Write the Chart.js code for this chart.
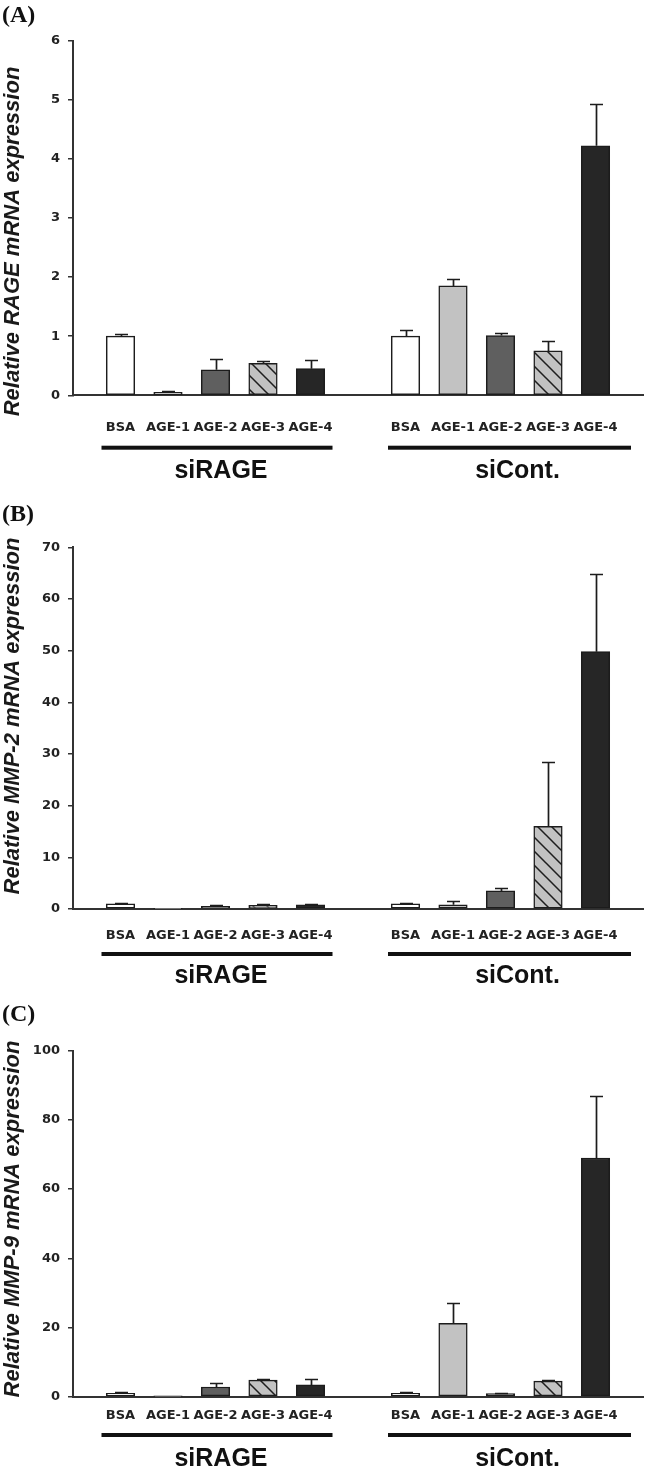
<!DOCTYPE html>
<html><head><meta charset="utf-8">
<script src="https://cdn.jsdelivr.net/npm/chart.js@4.4.0/dist/chart.umd.min.js"></script>
<style>
html,body{margin:0;padding:0;background:#fff;}
body{width:646px;height:1469px;position:relative;overflow:hidden;}
.panel{position:absolute;left:0;width:646px;}
.plabel{position:absolute;left:2px;font-family:"Liberation Serif","Times New Roman",serif;font-weight:bold;font-size:24px;line-height:24px;color:#111;}
canvas{position:absolute;left:0;top:0;}
</style></head><body>
<div class="panel" style="top:0;height:485px"><canvas id="cA" width="646" height="485"></canvas><div class="plabel" style="top:2px">(A)</div></div>
<div class="panel" style="top:485px;height:510px"><canvas id="cB" width="646" height="510"></canvas><div class="plabel" style="top:16px">(B)</div></div>
<div class="panel" style="top:980px;height:489px"><canvas id="cC" width="646" height="489"></canvas><div class="plabel" style="top:21px">(C)</div></div>
<script>
// ---- data ----
const treatments = ['BSA', 'AGE-1', 'AGE-2', 'AGE-3', 'AGE-4'];
const groupNames = ['siRAGE', 'siCont.'];

const rageTitle = 'Relative RAGE mRNA expression';
const rageSiRAGE = [1.0, 0.05, 0.43, 0.54, 0.45];
const rageSiRAGEErr = [0.04, 0.02, 0.18, 0.045, 0.15];
const rageSiCont = [1.0, 1.85, 1.01, 0.75, 4.22];
const rageSiContErr = [0.1, 0.11, 0.04, 0.17, 0.7];
const rageTicks = [0, 6, 1];

const mmp2Title = 'Relative MMP-2 mRNA expression';
const mmp2SiRAGE = [1.0, 0.05, 0.5, 0.7, 0.8];
const mmp2SiRAGEErr = [0.25, 0, 0.2, 0.2, 0.2];
const mmp2SiCont = [1.0, 0.8, 3.5, 16.0, 49.8];
const mmp2SiContErr = [0.1, 0.8, 0.5, 12.5, 15.0];
const mmp2Ticks = [0, 70, 10];

const mmp9Title = 'Relative MMP-9 mRNA expression';
const mmp9SiRAGE = [1.0, 0.05, 2.8, 4.8, 3.4];
const mmp9SiRAGEErr = [0.4, 0, 1.3, 0.4, 1.8];
const mmp9SiCont = [1.0, 21.2, 0.9, 4.5, 69.0];
const mmp9SiContErr = [0.4, 5.8, 0.3, 0.4, 18.0];
const mmp9Ticks = [0, 100, 20];

// ---- styles ----
function makeHatch() {
  const s = 14;
  const c = document.createElement('canvas');
  c.width = s; c.height = s;
  const g = c.getContext('2d');
  g.fillStyle = '#c2c2c2'; g.fillRect(0, 0, s, s);
  g.strokeStyle = '#1e1e1e'; g.lineWidth = 1.5;
  g.beginPath();
  g.moveTo(-2, -2); g.lineTo(s + 2, s + 2);
  g.moveTo(-2, s - 2); g.lineTo(2, s + 2);
  g.moveTo(s - 2, -2); g.lineTo(s + 2, 2);
  g.stroke();
  return g.createPattern(c, 'repeat');
}
const hatch = makeHatch();
const fillColors = ['#ffffff', '#c2c2c2', '#5f5f5f', hatch, '#262626'];
const edge = '#1c1c1c';
const tickFont = {family: '"DejaVu Sans", sans-serif', weight: 'bold', size: 13};

const errorBars = {
  id: 'errorBars',
  afterDatasetsDraw(chart) {
    const ds = chart.data.datasets[0];
    const meta = chart.getDatasetMeta(0);
    const ys = chart.scales.y;
    const ctx = chart.ctx;
    ctx.save();
    ctx.strokeStyle = edge; ctx.lineWidth = 1.7;
    meta.data.forEach((bar, i) => {
      const v = ds.data[i], e = ds.errors[i];
      if (v == null || !e) return;
      const yt = Math.round(ys.getPixelForValue(v + e)) + 0.5;
      const x = Math.round(bar.x) + 0.5;
      ctx.beginPath();
      ctx.moveTo(x, bar.y); ctx.lineTo(x, yt);
      ctx.moveTo(x - 6.5, yt); ctx.lineTo(x + 6.5, yt);
      ctx.stroke();
    });
    ctx.restore();
  }
};

const groupDecor = {
  id: 'groupDecor',
  afterDraw(chart) {
    const L = chart.options.plugins.groupDecor;
    const xs = chart.scales.x, ys = chart.scales.y, ctx = chart.ctx;
    const base = ys.getPixelForValue(0);
    ctx.save();
    L.groups.forEach((g) => {
      const x0 = xs.getPixelForTick(g.first), x1 = xs.getPixelForTick(g.last);
      ctx.fillStyle = '#111';
      ctx.fillRect(x0 + g.lineL, base + L.lineDy - 2, (x1 + g.lineR) - (x0 + g.lineL), 4);
      ctx.font = 'bold 25px "Liberation Sans", Arial, sans-serif';
      ctx.textAlign = 'center'; ctx.textBaseline = 'middle';
      ctx.fillText(g.name, (x0 + x1) / 2 + g.textDx, base + L.labelDy);
    });
    // y axis title
    ctx.translate(19, L.titleY);
    ctx.rotate(-Math.PI / 2);
    ctx.font = 'italic bold 22px "Liberation Sans", Arial, sans-serif';
    ctx.fillStyle = '#1a1a1a';
    ctx.textAlign = 'center'; ctx.textBaseline = 'alphabetic';
    ctx.fillText(ys.options.title.text, 0, 0);
    ctx.restore();
  }
};

function build(id, title, a, aErr, b, bErr, ticks, lay) {
  const labels = [''].concat(treatments, [''], treatments, ['']);
  const data = [null].concat(a, [null], b, [null]);
  const errs = [null].concat(aErr, [null], bErr, [null]);
  const bg = ['rgba(0,0,0,0)'].concat(fillColors, ['rgba(0,0,0,0)'], fillColors, ['rgba(0,0,0,0)']);
  const first1 = 1, last1 = treatments.length, first2 = treatments.length + 2, last2 = 2 * treatments.length + 1;
  const canvas = document.getElementById(id);
  const H = canvas.height;
  new Chart(canvas, {
    type: 'bar',
    data: {labels, datasets: [{data, errors: errs, backgroundColor: bg, borderColor: edge,
      borderWidth: 1.5, borderSkipped: false, barThickness: 28.5}]},
    options: {
      responsive: false, animation: false,
      layout: {padding: {top: lay.top, right: 3, bottom: 0, left: 0}},
      plugins: {legend: {display: false}, tooltip: {enabled: false},
        groupDecor: {lineDy: lay.lineDy, labelDy: lay.labelDy, titleY: lay.titleY, groups: [
          {name: groupNames[0], first: first1, last: last1, lineL: -19, lineR: 22, textDx: 5.5},
          {name: groupNames[1], first: first2, last: last2, lineL: -17.5, lineR: 35.5, textDx: 17}
        ]}},
      scales: {
        x: {offset: false, grid: {display: false, drawTicks: true, tickLength: lay.tickPad},
          border: {display: true, color: '#333', width: 2},
          ticks: {autoSkip: false, maxRotation: 0, minRotation: 0, padding: 0, color: '#222', font: tickFont},
          afterFit(s) { s.height = H - lay.bottom; }},
        y: {min: ticks[0], max: ticks[1],
          title: {display: false, text: title},
          grid: {display: true, drawOnChartArea: false, drawTicks: true, tickLength: 5, color: '#333', lineWidth: 1.5},
          border: {display: true, color: '#333', width: 2},
          ticks: {stepSize: ticks[2], padding: 8, color: '#222', font: tickFont},
          afterFit(s) { s.width = 73; }}
      }
    },
    plugins: [errorBars, groupDecor]
  });
}

build('cA', rageTitle, rageSiRAGE, rageSiRAGEErr, rageSiCont, rageSiContErr, rageTicks,
  {top: 40.5, bottom: 395.3, tickPad: 25, lineDy: 52.4, labelDy: 75.5, titleY: 241.5});
build('cB', mmp2Title, mmp2SiRAGE, mmp2SiRAGEErr, mmp2SiCont, mmp2SiContErr, mmp2Ticks,
  {top: 62.3, bottom: 424, tickPad: 19, lineDy: 45, labelDy: 67, titleY: 231});
build('cC', mmp9Title, mmp9SiRAGE, mmp9SiRAGEErr, mmp9SiCont, mmp9SiContErr, mmp9Ticks,
  {top: 70.7, bottom: 416.7, tickPad: 11, lineDy: 38.3, labelDy: 62, titleY: 239});
</script>
</body></html>
